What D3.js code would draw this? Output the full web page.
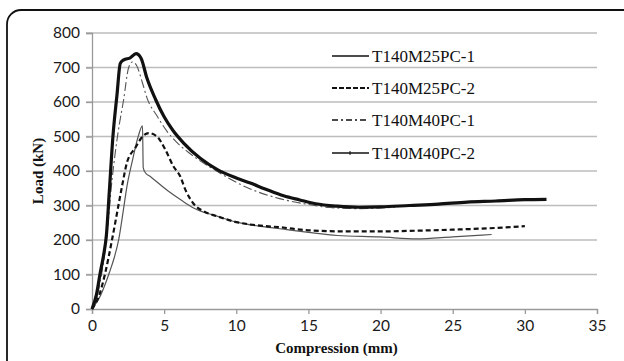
<!DOCTYPE html>
<html>
<head>
<meta charset="utf-8">
<script src="https://cdn.jsdelivr.net/npm/d3@7"></script>
<style>
  body { margin: 0; background: #fff; }
  svg { display: block; }
</style>
</head>
<body>
<div id="chart"></div>
<script>
// chart values: [compression mm, load kN]
var m25pc1 = [[0,0],[0.6,40],[1.2,105],[1.55,150],[1.85,201],[2.15,280],[2.42,355],[2.8,430],[3.2,500],[3.5,531],
  [3.55,410],[3.7,395],[4.04,384],[5.3,341],[6.2,315],[7.04,293],[8.66,269],[10,252],[12,238],[13.5,230],
  [15,222],[17,213],[20,209],[22.5,203],[25,209],[27.7,216]];
var m25pc2 = [[0,0],[0.5,40],[0.92,105],[1.39,201],[1.84,302],[2.1,360],[2.42,424],[3.0,467],[3.5,500],[3.92,510],
  [4.5,500],[5.08,462],[5.65,413],[6.12,384],[6.47,346],[7.04,305],[7.8,282],[8.66,269],[10,252],[10.97,245],
  [13.26,236],[15,228],[17.5,225],[20,225],[22.5,227],[25,230],[27.5,234],[30,240]];
var m40pc1 = [[0,0],[0.4,45],[0.7,110],[1.0,200],[1.39,375],[1.8,510],[2.19,606],[2.54,700],[2.8,716],[3.1,705],
  [3.5,655],[3.81,612],[4.5,560],[5.2,515],[6.0,478],[6.81,450],[8.66,399],[10.97,348],[13,320],[15,303],
  [16.5,294],[18.5,291],[21,295]];
var m40pc2 = [[0,0],[0.3,40],[0.57,105],[0.8,155],[1.0,215],[1.2,340],[1.45,500],[1.73,620],[1.96,712],[2.2,722],
  [2.65,728],[3.05,740],[3.4,727],[3.8,670],[4.4,608],[5.0,557],[5.6,518],[6.35,481],[7.5,437],[8.66,405],
  [10,380],[10.97,365],[12,348],[13.28,328],[14.4,316],[15.5,305],[17,298],[18.5,295],[20,296],[22,300],
  [24,304],[26,310],[28,313],[30,317],[31.5,318]];

var seriesNames = ["T140M25PC-1", "T140M25PC-2", "T140M40PC-1", "T140M40PC-2"];
var xTicks = [0, 5, 10, 15, 20, 25, 30, 35];
var yTicks = [0, 100, 200, 300, 400, 500, 600, 700, 800];

var svgWidth = 624;
var svgHeight = 361;

var margin = { top: 33, right: 27, bottom: 52, left: 92 };
var width = svgWidth - margin.left - margin.right;
var height = svgHeight - margin.top - margin.bottom;

var svg = d3.select("#chart")
    .append("svg")
    .attr("width", svgWidth)
    .attr("height", svgHeight);

// outer rounded frame
svg.append("rect")
    .attr("x", 7)
    .attr("y", 10)
    .attr("width", 640)
    .attr("height", 380)
    .attr("rx", 14)
    .attr("fill", "none")
    .attr("stroke", "#111")
    .attr("stroke-width", 1.8);

var chartGroup = svg.append("g")
    .attr("transform", `translate(${margin.left}, ${margin.top})`);

var xScale = d3.scaleLinear().domain([0, 35]).range([0, width]);
var yScale = d3.scaleLinear().domain([0, 800]).range([height, 0]);

// gridlines
chartGroup.selectAll(".grid")
    .data(yTicks.slice(1))
    .enter()
    .append("line")
    .attr("x1", -6)
    .attr("x2", width)
    .attr("y1", d => yScale(d))
    .attr("y2", d => yScale(d))
    .attr("stroke", "#bdbdbd")
    .attr("stroke-width", 1.3);

// axes
var xAxis = d3.axisBottom(xScale).tickValues(xTicks).tickSize(5).tickPadding(6);
var yAxis = d3.axisLeft(yScale).tickValues(yTicks).tickSize(6).tickPadding(6);

var xg = chartGroup.append("g")
    .attr("transform", `translate(0, ${height})`)
    .call(xAxis);
var yg = chartGroup.append("g").call(yAxis);

[xg, yg].forEach(function(g) {
    g.select(".domain").attr("stroke", "#9a9a9a").attr("stroke-width", 1.3);
    g.selectAll(".tick line").attr("stroke", "#9a9a9a").attr("stroke-width", 1.3);
    g.selectAll(".tick text")
        .attr("fill", "#1a1a1a")
        .attr("font-family", "Lato, 'Open Sans', sans-serif")
        .attr("font-size", "15.5px");
});

// lines
var line = d3.line()
    .x(d => xScale(d[0]))
    .y(d => yScale(d[1]))
    .curve(d3.curveMonotoneX);

var styles = [
    { data: m25pc1, color: "#555", width: 1.2, dash: null },
    { data: m25pc2, color: "#111", width: 2.2, dash: "5,3" },
    { data: m40pc1, color: "#555", width: 1.1, dash: "9,3,2,3" },
    { data: m40pc2, color: "#111", width: 3.2, dash: null }
];

styles.forEach(function(s) {
    chartGroup.append("path")
        .datum(s.data)
        .attr("d", line)
        .attr("fill", "none")
        .attr("stroke", s.color)
        .attr("stroke-width", s.width)
        .attr("stroke-linejoin", "round")
        .attr("stroke-dasharray", s.dash);
});

// legend
var legendY = [56, 88, 120, 153];
var legendDash = [null, "5,2", "6,3,2,3", null];
var legend = svg.append("g");
seriesNames.forEach(function(name, i) {
    legend.append("line")
        .attr("x1", 332)
        .attr("x2", 369)
        .attr("y1", legendY[i])
        .attr("y2", legendY[i])
        .attr("stroke", "#111")
        .attr("stroke-width", i == 1 ? 2 : 1.5)
        .attr("stroke-dasharray", legendDash[i]);
    if (i == 3) {
        legend.append("line")
            .attr("x1", 350).attr("x2", 350)
            .attr("y1", legendY[i] - 2).attr("y2", legendY[i] + 2)
            .attr("stroke", "#111").attr("stroke-width", 1);
    }
    legend.append("text")
        .attr("x", 372)
        .attr("y", legendY[i] + 6)
        .attr("font-family", "'Liberation Serif', serif")
        .attr("font-size", "17px")
        .attr("fill", "#111")
        .text(name);
});

// axis titles
chartGroup.append("text")
    .attr("transform", "rotate(-90)")
    .attr("x", 0 - height / 2)
    .attr("y", -49)
    .attr("text-anchor", "middle")
    .attr("font-family", "'Liberation Serif', serif")
    .attr("font-weight", "bold")
    .attr("font-size", "15px")
    .attr("fill", "#111")
    .text("Load (kN)");

chartGroup.append("text")
    .attr("x", width / 2 - 8)
    .attr("y", height + 44)
    .attr("text-anchor", "middle")
    .attr("font-family", "'Liberation Serif', serif")
    .attr("font-weight", "bold")
    .attr("font-size", "15px")
    .attr("fill", "#111")
    .text("Compression (mm)");
</script>
</body>
</html>
